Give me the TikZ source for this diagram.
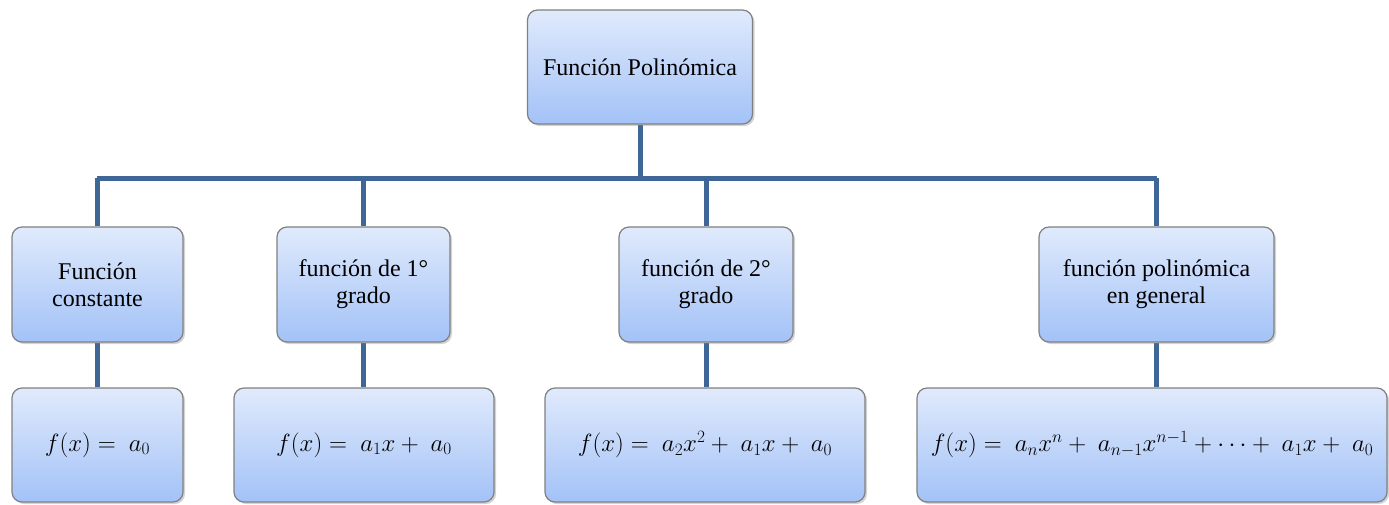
\documentclass[tikz,border=0pt]{standalone}
\usepackage{amsmath,amssymb}
\usepackage{fontspec}
\setmainfont{Liberation Serif}
\usepackage{xcolor}
\usetikzlibrary{positioning,backgrounds,shadows}
\definecolor{clink}{RGB}{62,102,150}
\definecolor{cedge}{RGB}{128,128,128}
\definecolor{ctop}{RGB}{224,234,252}
\definecolor{cbot}{RGB}{163,194,247}

\begin{document}
\begin{tikzpicture}[x=1pt,y=-1pt,font=\fontsize{24}{27}\selectfont,
  box/.style={draw=cedge,line width=1.2pt,rounded corners=10pt,top color=ctop,bottom color=cbot,
    align=center,inner sep=0pt,drop shadow={shadow xshift=2pt,shadow yshift=-2pt,opacity=0.35}},
  root/.style={box,minimum width=225pt,minimum height=114pt},
  kind/.style={box,minimum height=115pt},
  form/.style={box,minimum height=114pt,font=\fontsize{25}{28}\selectfont},
  link/.style={clink,line width=5pt},
]
\useasboundingbox (0,0) rectangle (1389,504);
\node[root] (poli) at (640,67) {Función Polinómica};
\node[kind,minimum width=171pt] (cons) at (97.5,284.5) {Función\\constante};
\node[kind,minimum width=173pt] (gr1) at (363.5,284.5) {función de 1°\\grado};
\node[kind,minimum width=174pt] (gr2) at (706,284.5) {función de 2°\\grado};
\node[kind,minimum width=235pt] (gen) at (1156.5,284.5) {función polinómica\\en general};
\node[form,minimum width=171pt] (fcons) at (97.5,445) {$f(x) =\ a_0$};
\node[form,minimum width=260pt] (fgr1) at (364,445) {$f(x) =\ a_1x +\ a_0$};
\node[form,minimum width=320pt] (fgr2) at (705,445) {$f(x) =\ a_2x^2 +\ a_1x +\ a_0$};
\node[form,minimum width=470pt] (fgen) at (1152,445) {$f(x) =\ a_nx^n +\ a_{n-1}x^{n-1} + \cdots +\ a_1x +\ a_0$};
\coordinate (busl) at (97,178);
\coordinate (busr) at (1157,178);
% tree lines behind the boxes
\begin{scope}[on background layer]
\draw[link] (busl) -- (busr);
\draw[link] (poli) -- (poli |- busl);
\foreach \k in {cons,gr1,gr2,gen}
  \draw[link] (\k |- busl) -- (\k);
\foreach \k/\f in {cons/fcons,gr1/fgr1,gr2/fgr2,gen/fgen}
  \draw[link] (\k.south) -- (\k.south |- \f.north);
\end{scope}
\end{tikzpicture}
\end{document}
